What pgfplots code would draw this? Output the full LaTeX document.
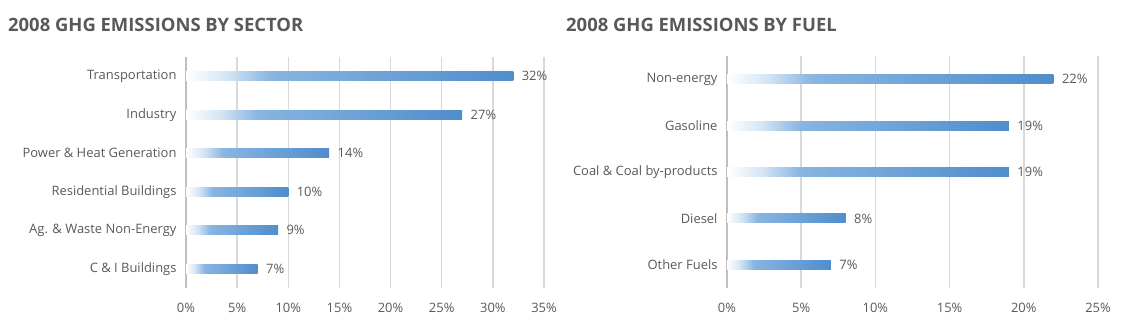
\documentclass[border=0pt]{standalone}
\usepackage{fontspec}
\setmainfont{Open Sans}
\usepackage{pgfplots}
\pgfplotsset{compat=1.18}
\definecolor{txtgray}{HTML}{595959}
\definecolor{gridgray}{HTML}{D9D9D9}
\definecolor{axgray}{HTML}{BFBFBF}
\definecolor{bA}{HTML}{D6E6F5}
\definecolor{bB}{HTML}{88B5E1}
\definecolor{bC}{HTML}{4F8DCD}
\pgfdeclarehorizontalshading{barshade}{100bp}{color(0bp)=(white); color(25bp)=(white); color(31bp)=(bA); color(38bp)=(bB); color(75bp)=(bC); color(100bp)=(bC)}
\pgfplotsset{
  mybar/.style={xbar, bar width=9bp, bar shift=0pt, draw=none, shading=barshade,
    point meta=x,
    nodes near coords={\pgfmathprintnumber{\pgfplotspointmeta}\%},
    nodes near coords style={font=\fontsize{13}{15}\selectfont, text=txtgray, xshift=5bp, /pgf/number format/assume math mode=true}},
  myaxis/.style={
    scale only axis, anchor=south west,
    y dir=reverse,
    axis line style={draw=none},
    tick style={draw=none},
    xmin=0, ymin=0.5,
    xmajorgrids, major grid style={gridgray, line width=1.5bp},
    extra x ticks={0}, extra x tick labels={},
    extra tick style={major grid style={axgray, line width=2bp}},
    xticklabel style={font=\fontsize{13}{15}\selectfont, text=txtgray, yshift=-12bp},
    yticklabel style={font=\fontsize{13}{15}\selectfont, text=txtgray, xshift=-6bp},
    clip=false,
  }
}
\begin{document}
\begin{tikzpicture}
\path[use as bounding box] (0,0) rectangle (1129bp,326bp);
\node[anchor=base west, font=\bfseries\fontsize{18.5}{20}\selectfont, text=txtgray, inner sep=0pt] at (8bp,294bp) {2008 GHG EMISSIONS BY SECTOR};
\node[anchor=base west, font=\bfseries\fontsize{18.5}{20}\selectfont, text=txtgray, inner sep=0pt] at (566bp,294bp) {2008 GHG EMISSIONS BY FUEL};
\begin{axis}[myaxis, at={(186bp,38bp)}, width=358bp, height=231bp,
  xmax=35, ymax=6.5,
  xtick={0,5,10,15,20,25,30,35},
  xticklabels={0\%,5\%,10\%,15\%,20\%,25\%,30\%,35\%},
  ytick={1,2,3,4,5,6},
  yticklabels={Transportation,Industry\hspace{4bp},Power \& Heat Generation\hspace{5bp},Residential Buildings,Ag. \& Waste Non-Energy,C \& I Buildings}]
\addplot[mybar] coordinates {(32,1)};
\addplot[mybar] coordinates {(27,2)};
\addplot[mybar] coordinates {(14,3)};
\addplot[mybar] coordinates {(10,4)};
\addplot[mybar] coordinates {(9,5)};
\addplot[mybar] coordinates {(7,6)};
\end{axis}
\begin{axis}[myaxis, at={(727bp,38bp)}, width=371bp, height=232bp,
  xmax=25, ymax=5.5,
  xtick={0,5,10,15,20,25},
  xticklabels={0\%,5\%,10\%,15\%,20\%,25\%},
  ytick={1,2,3,4,5},
  yticklabels={Non-energy\hspace{14bp},Gasoline,Coal \& Coal by-products,Diesel\hspace{4bp},Other Fuels}]
\addplot[mybar] coordinates {(22,1)};
\addplot[mybar] coordinates {(19,2)};
\addplot[mybar] coordinates {(19,3)};
\addplot[mybar] coordinates {(8,4)};
\addplot[mybar] coordinates {(7,5)};
\end{axis}
\end{tikzpicture}
\end{document}
